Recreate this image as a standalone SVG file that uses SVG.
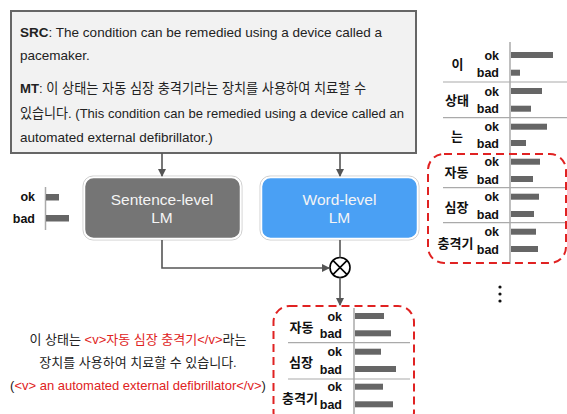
<svg xmlns="http://www.w3.org/2000/svg" width="567" height="414" viewBox="0 0 567 414">
<defs>
<style>
text{font-family:"Liberation Sans","Noto Sans CJK KR",sans-serif;}
.body{font-size:13.5px;fill:#222;}
.b{font-weight:bold;}
.lbl{font-size:12.5px;font-weight:bold;fill:#111;text-anchor:end;}
.word{font-size:13px;font-weight:bold;fill:#111;text-anchor:middle;}
.bar{fill:#666;}
.axis{stroke:#aaa;stroke-width:1.5;fill:none;}
.sep{stroke:#aaa;stroke-width:1.2;fill:none;}
.conn{stroke:#555;stroke-width:1.6;fill:none;}
.dash{stroke:#e02222;stroke-width:2;stroke-dasharray:8,5;fill:none;}
.lm{font-size:15.5px;fill:#f4f4f4;text-anchor:middle;}
.red{fill:#e02222;}
.cap{font-size:13px;fill:#222;text-anchor:middle;}
</style>
<marker id="ah" markerWidth="8" markerHeight="8" refX="7" refY="4" orient="auto" markerUnits="userSpaceOnUse">
<path d="M0,0 L8,4 L0,8 z" fill="#555"/>
</marker>
</defs>

<g id="input-box">
<rect x="11" y="11" width="405" height="142" fill="#f2f2f2" stroke="#666" stroke-width="2"/>
<text class="body" x="20" y="37" textLength="362" lengthAdjust="spacing"><tspan class="b">SRC</tspan>: The condition can be remedied using a device called a</text>
<text class="body" x="20" y="60">pacemaker.</text>
<text class="body" x="20" y="93" textLength="346" lengthAdjust="spacingAndGlyphs"><tspan class="b">MT</tspan>: 이 상태는 자동 심장 충격기라는 장치를 사용하여 치료할 수</text>
<text class="body" x="20" y="118" textLength="384" lengthAdjust="spacingAndGlyphs">있습니다. (This condition can be remedied using a device called an</text>
<text class="body" x="20" y="142">automated external defibrillator.)</text>
</g>

<g id="sentence-lm">
<rect x="83" y="176" width="159" height="64" rx="10" fill="none" stroke="#d0d0d0" stroke-width="1"/>
<rect x="84.5" y="177.5" width="156" height="61" rx="9" fill="#757575" stroke="#fff" stroke-width="1.5"/>
<text class="lm" x="162" y="205">Sentence-level</text>
<text class="lm" x="162" y="223">LM</text>
</g>

<g id="word-lm">
<rect x="260" y="176" width="159" height="64" rx="10" fill="none" stroke="#d0d0d0" stroke-width="1"/>
<rect x="261.5" y="177.5" width="156" height="61" rx="9" fill="#4aa0f4" stroke="#fff" stroke-width="1.5"/>
<text class="lm" x="339.5" y="205">Word-level</text>
<text class="lm" x="339.5" y="223">LM</text>
</g>

<g id="multiply">
<circle cx="340" cy="267.5" r="10" fill="#fff" stroke="#000" stroke-width="1.6"/>
<path d="M332.9,260.4 L347.1,274.6 M347.1,260.4 L332.9,274.6" stroke="#000" stroke-width="1.6"/>
</g>

<g id="connectors">
<path class="conn" d="M162,153 V176" marker-end="url(#ah)"/>
<path class="conn" d="M340,153 V176" marker-end="url(#ah)"/>
<path class="conn" d="M162,240 V268 H329" marker-end="url(#ah)"/>
<path class="conn" d="M340,240 V257.5"/>
<path class="conn" d="M340,277.5 V305" marker-end="url(#ah)"/>
</g>

<g id="sentence-score">
<line class="axis" x1="45.5" y1="187" x2="45.5" y2="230"/>
<text class="lbl" x="35" y="201">ok</text>
<text class="lbl" x="35" y="223">bad</text>
<rect class="bar" x="46" y="194" width="13" height="6.5"/>
<rect class="bar" x="46" y="215" width="23" height="6.5"/>
</g>

<g id="word-scores">
<line class="axis" x1="510" y1="42" x2="510" y2="264"/>
<line class="sep" x1="443" y1="82" x2="567" y2="82"/>
<line class="sep" x1="443" y1="117.7" x2="567" y2="117.7"/>
<line class="sep" x1="443" y1="187.7" x2="567" y2="187.7"/>
<line class="sep" x1="443" y1="222.7" x2="567" y2="222.7"/>
<text class="word" x="457.5" y="69">이</text>
<text class="word" x="457" y="105">상태</text>
<text class="word" x="457" y="140.5">는</text>
<text class="word" x="456.5" y="176.5">자동</text>
<text class="word" x="456.5" y="211.5">심장</text>
<text class="word" x="455.5" y="248">충격기</text>
<text class="lbl" x="499" y="59.5">ok</text><text class="lbl" x="499" y="77">bad</text>
<text class="lbl" x="499" y="95.5">ok</text><text class="lbl" x="499" y="113">bad</text>
<text class="lbl" x="499" y="131">ok</text><text class="lbl" x="499" y="147.5">bad</text>
<text class="lbl" x="499" y="166">ok</text><text class="lbl" x="499" y="183.5">bad</text>
<text class="lbl" x="499" y="201">ok</text><text class="lbl" x="499" y="218.5">bad</text>
<text class="lbl" x="499" y="236">ok</text><text class="lbl" x="499" y="253.5">bad</text>
<rect class="bar" x="511" y="52" width="42" height="6"/>
<rect class="bar" x="511" y="69.7" width="9" height="6"/>
<rect class="bar" x="511" y="88" width="31" height="6"/>
<rect class="bar" x="511" y="105.7" width="20" height="6"/>
<rect class="bar" x="511" y="123.7" width="36" height="6"/>
<rect class="bar" x="511" y="140" width="15" height="6"/>
<rect class="bar" x="511" y="158.7" width="29" height="6"/>
<rect class="bar" x="511" y="176" width="22" height="6"/>
<rect class="bar" x="511" y="193.7" width="28" height="6"/>
<rect class="bar" x="511" y="211" width="23" height="6"/>
<rect class="bar" x="511" y="228.7" width="25" height="6"/>
<rect class="bar" x="511" y="246" width="27" height="6"/>
<rect class="dash" x="428" y="154" width="138" height="109" rx="16"/>
<circle cx="500" cy="287" r="1.6" fill="#111"/>
<circle cx="500" cy="294" r="1.6" fill="#111"/>
<circle cx="500" cy="301" r="1.6" fill="#111"/>
</g>

<g id="output-scores">
<line class="axis" x1="354" y1="308" x2="354" y2="414"/>
<line class="sep" x1="288" y1="342.7" x2="410" y2="342.7"/>
<line class="sep" x1="288" y1="379" x2="410" y2="379"/>
<text class="word" x="301.5" y="331.5">자동</text>
<text class="word" x="301" y="367">심장</text>
<text class="word" x="300" y="402.5">충격기</text>
<text class="lbl" x="342" y="320.5">ok</text><text class="lbl" x="342" y="338">bad</text>
<text class="lbl" x="342" y="356">ok</text><text class="lbl" x="342" y="373.5">bad</text>
<text class="lbl" x="342" y="391">ok</text><text class="lbl" x="342" y="408.5">bad</text>
<rect class="bar" x="355" y="313" width="29" height="6"/>
<rect class="bar" x="355" y="330.3" width="36" height="6"/>
<rect class="bar" x="355" y="348.7" width="26" height="6"/>
<rect class="bar" x="355" y="366" width="41" height="6"/>
<rect class="bar" x="355" y="383.7" width="28" height="6"/>
<rect class="bar" x="355" y="401.3" width="38" height="6"/>
<rect class="dash" x="273.5" y="306" width="140.5" height="122" rx="16"/>
</g>

<g id="tagged-output">
<text class="cap" x="138" y="344">이 상태는 <tspan class="red">&lt;v&gt;자동 심장 충격기&lt;/v&gt;</tspan>라는</text>
<text class="cap" x="138" y="366.5">장치를 사용하여 치료할 수 있습니다.</text>
<text class="cap" x="138" y="390">(<tspan class="red">&lt;v&gt; an automated external defibrillator&lt;/v&gt;</tspan>)</text>
</g>
</svg>
